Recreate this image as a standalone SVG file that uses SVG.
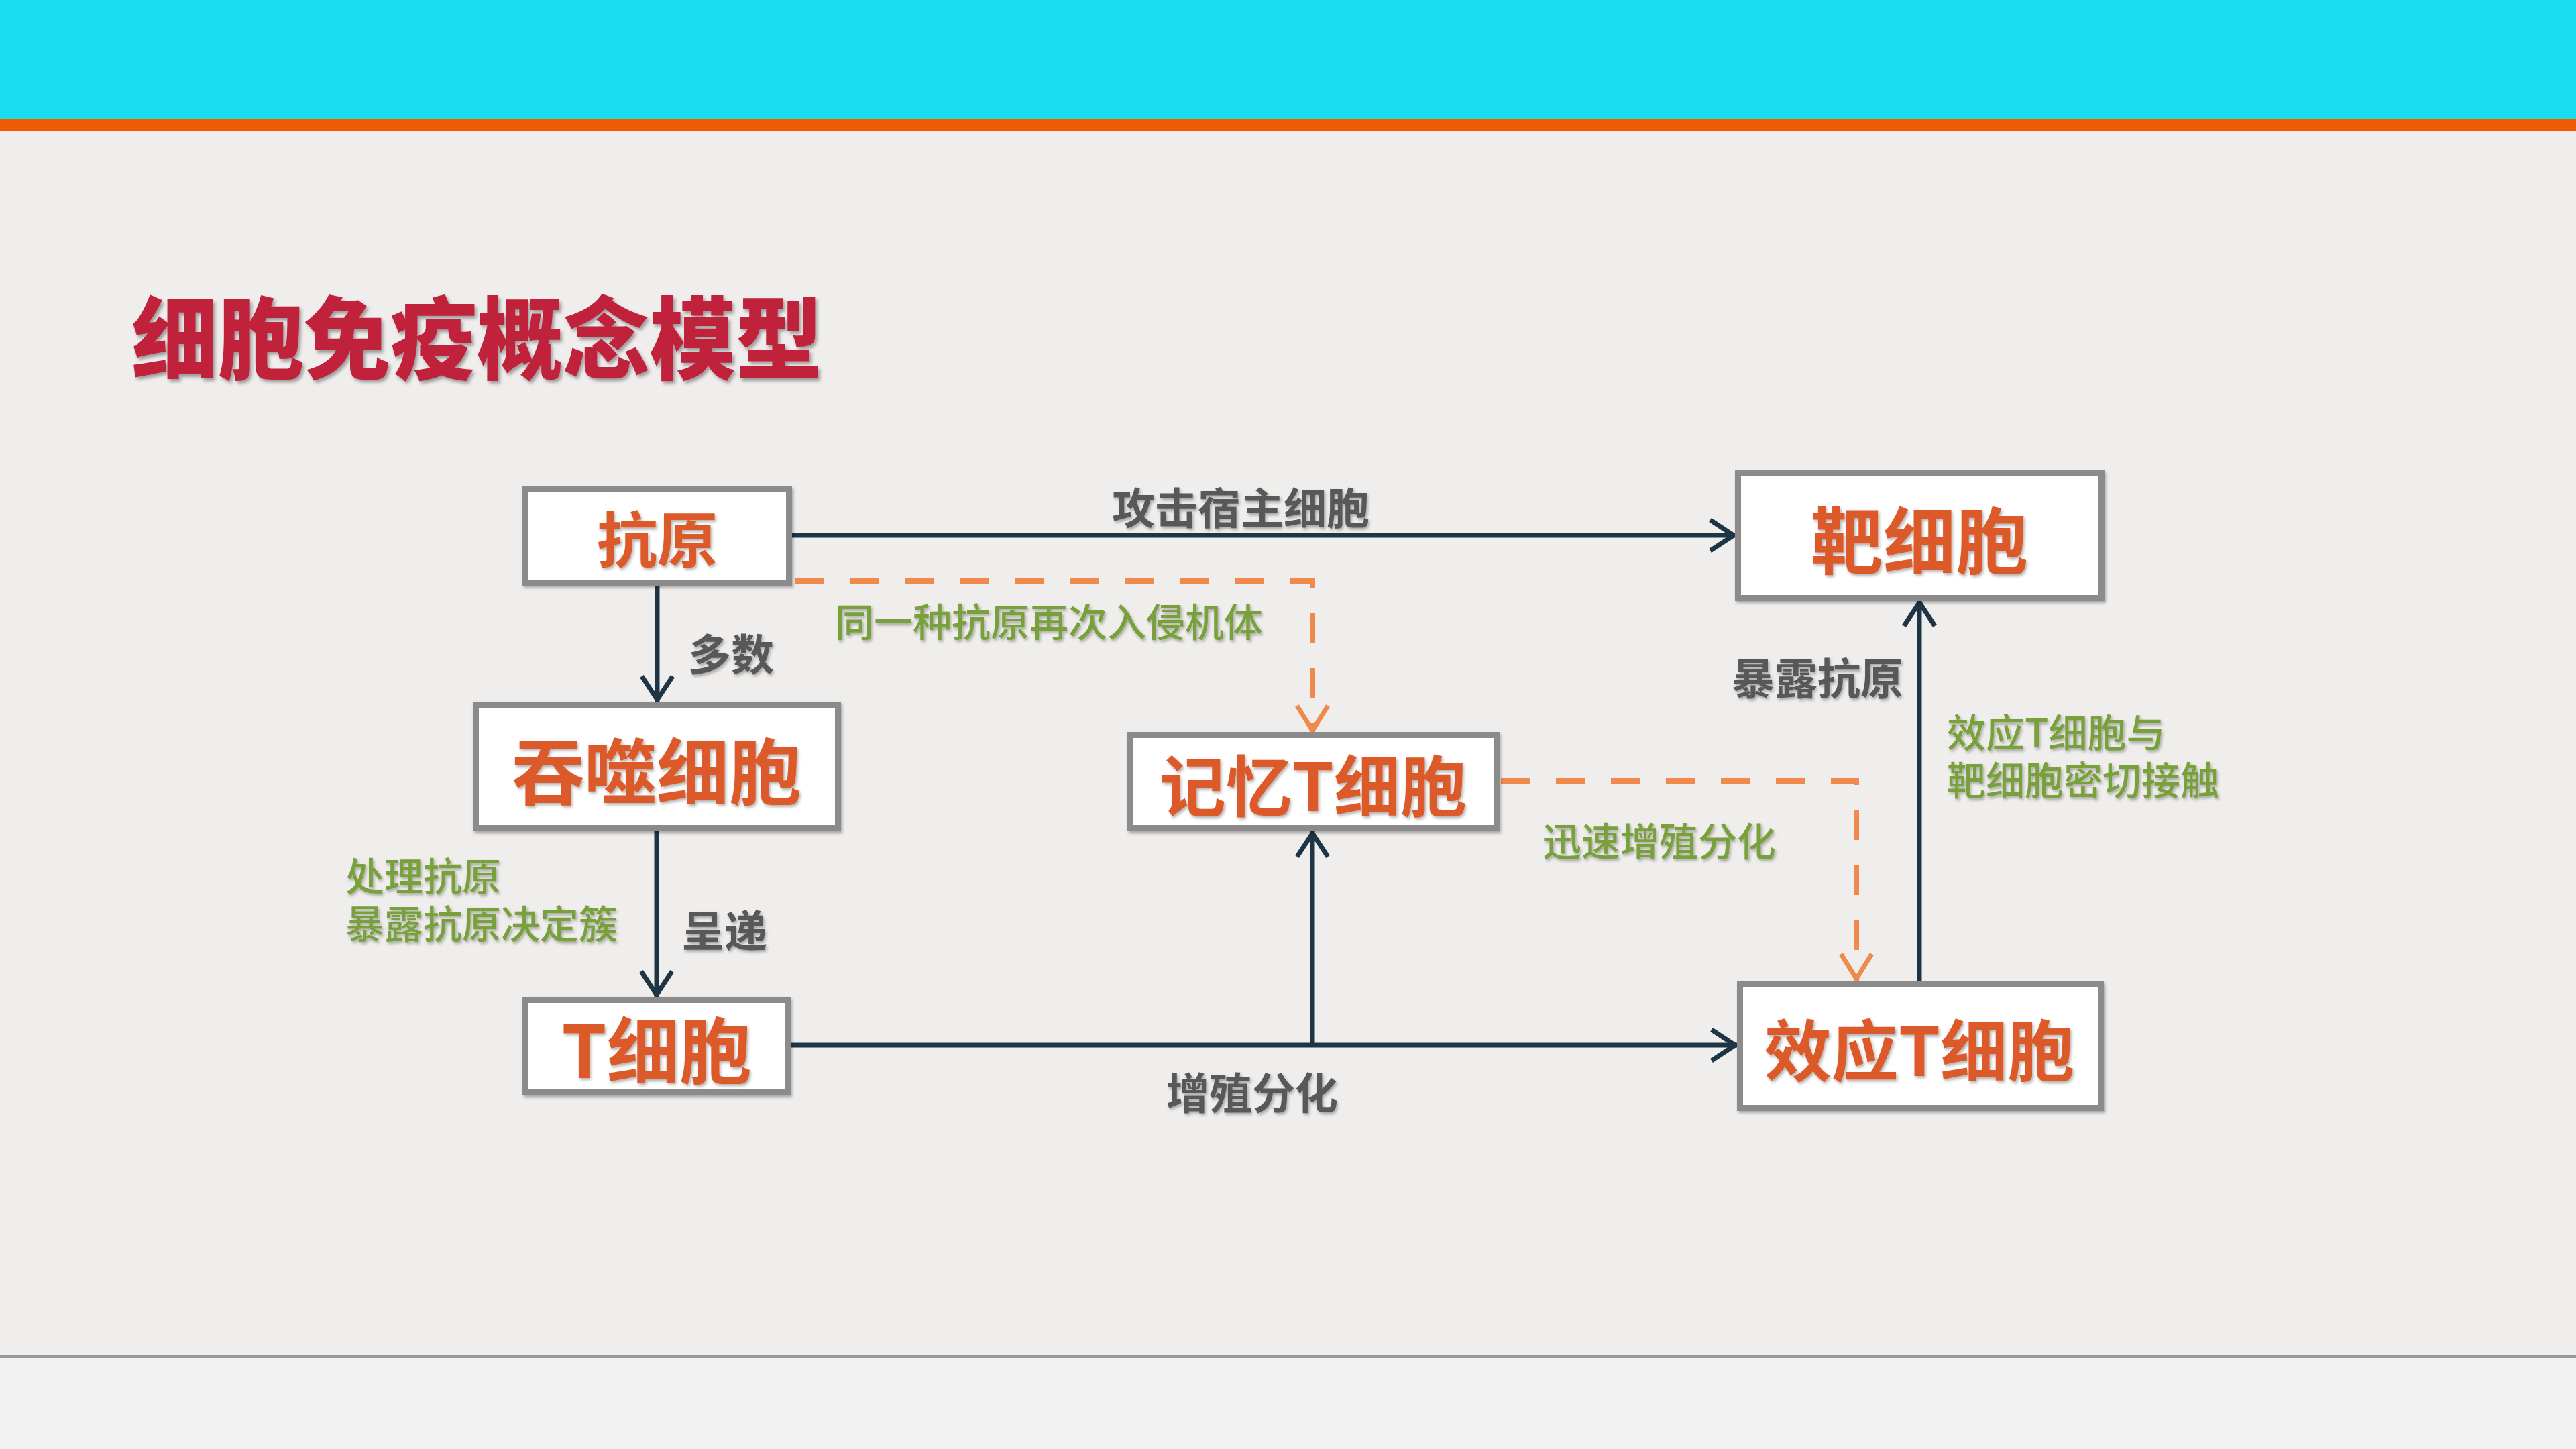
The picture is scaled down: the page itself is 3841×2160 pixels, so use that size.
<svg xmlns="http://www.w3.org/2000/svg" width="3841" height="2160" viewBox="0 0 3841 2160">
  <style>
    .cjk { font-family: "Noto Sans CJK SC", "Noto Sans", sans-serif; }
    .node rect { fill: #FFFFFF; stroke: #8B8B8B; stroke-width: 9; }
    .node text { font-family: "Noto Sans CJK SC", "Noto Sans", sans-serif; font-weight: 700; fill: #DC5A2B; text-anchor: middle; dominant-baseline: central; }
    .lbl-gray { font-family: "Noto Sans CJK SC", sans-serif; font-weight: 700; fill: #585858; font-size: 64px; dominant-baseline: central; }
    .lbl-green { font-family: "Noto Sans CJK SC", sans-serif; font-weight: 500; fill: #78A03A; font-size: 58px; dominant-baseline: central; }
    .solid { fill: none; stroke: #1E3545; stroke-width: 7; }
    .dash { fill: none; stroke: #F08A4C; stroke-width: 8; stroke-dasharray: 44 38; }
  </style>
  <defs>
    <filter id="sh" x="-10%" y="-10%" width="130%" height="140%">
      <feDropShadow dx="3" dy="4" stdDeviation="2.5" flood-color="#000000" flood-opacity="0.35"/>
    </filter>
    <filter id="shs" x="-10%" y="-10%" width="130%" height="140%">
      <feDropShadow dx="2" dy="3" stdDeviation="2" flood-color="#000000" flood-opacity="0.3"/>
    </filter>
    <marker id="arrD" markerUnits="userSpaceOnUse" markerWidth="80" markerHeight="80" viewBox="-60 -40 80 80" refX="0" refY="0" orient="auto">
      <path d="M-38,-23 L-3,0 L-38,23" fill="none" stroke="#1E3545" stroke-width="7" stroke-dasharray="none"/>
    </marker>
    <marker id="arrO" markerUnits="userSpaceOnUse" markerWidth="80" markerHeight="80" viewBox="-60 -40 80 80" refX="0" refY="0" orient="auto">
      <path d="M-40,-23 L-3,0 L-40,23" fill="none" stroke="#F08A4C" stroke-width="7" stroke-dasharray="none"/>
    </marker>
  </defs>

  <!-- background -->
  <rect x="0" y="0" width="3841" height="2160" fill="#EFEEED"/>
  <rect x="0" y="0" width="3841" height="178" fill="#19DCF0"/>
  <rect x="0" y="178" width="3841" height="17" fill="#EE5B00"/>
  <rect x="0" y="2024" width="3841" height="136" fill="#F1F1F1"/>
  <rect x="0" y="2020" width="3841" height="4" fill="#999999"/>

  <!-- title -->
  <text x="196" y="497" class="cjk" font-size="134" font-weight="900" fill="#C0203A" dominant-baseline="central" textLength="1030" lengthAdjust="spacingAndGlyphs" filter="url(#sh)">细胞免疫概念模型</text>

  <!-- connectors -->
  <g id="connectors">
    <line class="solid" x1="980" y1="873" x2="980" y2="1046" marker-end="url(#arrD)"/>
    <line class="solid" x1="979" y1="1239" x2="979" y2="1486" marker-end="url(#arrD)"/>
    <line class="solid" x1="1181" y1="798" x2="2588" y2="798" marker-end="url(#arrD)"/>
    <line class="solid" x1="1179" y1="1558" x2="2590" y2="1558" marker-end="url(#arrD)"/>
    <line class="solid" x1="1957" y1="1558" x2="1957" y2="1239" marker-end="url(#arrD)"/>
    <line class="solid" x1="2862" y1="1463" x2="2862" y2="895" marker-end="url(#arrD)"/>
    <path class="dash" d="M1185,866 H1957 V1092" marker-end="url(#arrO)"/>
    <path class="dash" d="M2238,1164 H2768 V1462" marker-end="url(#arrO)"/>

    <text class="lbl-gray" x="1850" y="753" text-anchor="middle" filter="url(#shs)">攻击宿主细胞</text>
    <text class="lbl-gray" x="1026" y="971" filter="url(#shs)">多数</text>
    <text class="lbl-green" x="1245" y="924" filter="url(#shs)">同一种抗原再次入侵机体</text>
    <text class="lbl-green" x="515" y="1303" filter="url(#shs)">处理抗原</text>
    <text class="lbl-green" x="515" y="1374" filter="url(#shs)">暴露抗原决定簇</text>
    <text class="lbl-gray" x="1016" y="1383" filter="url(#shs)">呈递</text>
    <text class="lbl-gray" x="1867" y="1625" text-anchor="middle" filter="url(#shs)">增殖分化</text>
    <text class="lbl-green" x="2300" y="1251" filter="url(#shs)">迅速增殖分化</text>
    <text class="lbl-gray" x="2838" y="1007" text-anchor="end" filter="url(#shs)">暴露抗原</text>
    <text class="lbl-green" x="2903" y="1089" filter="url(#shs)">效应T细胞与</text>
    <text class="lbl-green" x="2903" y="1160" filter="url(#shs)">靶细胞密切接触</text>
  </g>

  <!-- nodes -->
  <g id="antigen" class="node">
    <rect x="783.5" y="729.5" width="393" height="139" filter="url(#shs)"/>
    <text x="980" y="799" font-size="90" filter="url(#shs)">抗原</text>
  </g>
  <g id="phagocyte" class="node">
    <rect x="709.5" y="1050.5" width="540" height="184" filter="url(#shs)"/>
    <text x="979" y="1144" font-size="108" filter="url(#shs)">吞噬细胞</text>
  </g>
  <g id="tcell" class="node">
    <rect x="783.5" y="1490.5" width="391" height="138" filter="url(#shs)"/>
    <text x="979" y="1560" font-size="108" filter="url(#shs)">T细胞</text>
  </g>
  <g id="memory" class="node">
    <rect x="1685.5" y="1095.5" width="546" height="139" filter="url(#shs)"/>
    <text x="1958" y="1166" font-size="99" filter="url(#shs)">记忆T细胞</text>
  </g>
  <g id="target" class="node">
    <rect x="2591.5" y="705.5" width="542" height="186" filter="url(#shs)"/>
    <text x="2862" y="800" font-size="108" filter="url(#shs)">靶细胞</text>
  </g>
  <g id="effector" class="node">
    <rect x="2594.5" y="1467.5" width="538" height="184" filter="url(#shs)"/>
    <text x="2862" y="1560" font-size="100" filter="url(#shs)">效应T细胞</text>
  </g>
</svg>
